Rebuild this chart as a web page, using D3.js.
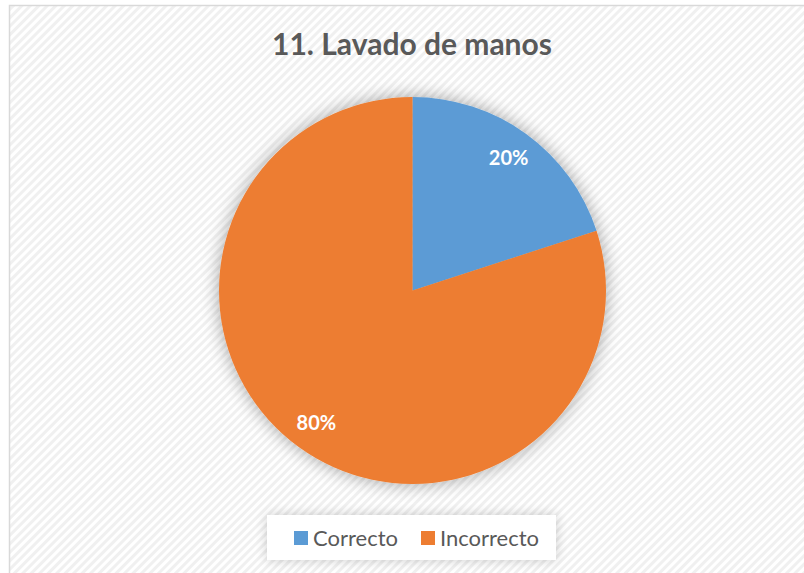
<!DOCTYPE html>
<html>
<head>
<meta charset="utf-8">
<script src="https://cdn.jsdelivr.net/npm/d3@7"></script>
<style>
  body { margin: 0; background: #fff; }
  svg { display: block; }
</style>
</head>
<body>
<svg width="804" height="573"></svg>
<script>
const categories = ['Correcto', 'Incorrecto'];
const values = [20, 80];
const labels = ['20%', '80%'];
const colors = ['#5B9BD5', '#ED7D31'];
const title = '11. Lavado de manos';

const svg = d3.select('svg');
const width = +svg.attr('width');
const height = +svg.attr('height');
const fontFamily = 'Lato, "Open Sans", sans-serif';

const defs = svg.append('defs');
// diagonal stripes of the chart area
const pattern = defs.append('pattern')
  .attr('id', 'stripes')
  .attr('patternUnits', 'userSpaceOnUse')
  .attr('width', 6)
  .attr('height', 6)
  .attr('patternTransform', 'rotate(45)');
pattern.append('rect').attr('width', 6).attr('height', 6).attr('fill', '#ffffff');
pattern.append('rect').attr('width', 3).attr('height', 6).attr('fill', '#f0f0f0');

const makeGlow = (id, blur, alpha) => {
  const f = defs.append('filter')
    .attr('id', id)
    .attr('x', '-25%').attr('y', '-25%')
    .attr('width', '150%').attr('height', '150%');
  f.append('feGaussianBlur').attr('in', 'SourceAlpha').attr('stdDeviation', blur);
  f.append('feComponentTransfer')
    .append('feFuncA').attr('type', 'linear').attr('slope', alpha);
  const m = f.append('feMerge');
  m.append('feMergeNode');
  m.append('feMergeNode').attr('in', 'SourceGraphic');
};
makeGlow('glow', 9, 0.35);
makeGlow('glow-legend', 6, 0.2);

// chart area + border
svg.append('rect')
  .attr('x', 9.5).attr('y', 5.5)
  .attr('width', width + 20).attr('height', height + 20)
  .attr('fill', 'url(#stripes)')
  .attr('stroke', '#d9d9d9')
  .attr('stroke-width', 1.5);

svg.append('text')
  .attr('x', 412)
  .attr('y', 55)
  .attr('text-anchor', 'middle')
  .attr('font-family', fontFamily)
  .attr('font-weight', 'bold')
  .attr('font-size', 30)
  .attr('fill', '#595959')
  .text(title);

// pie
const cx = 412.5, cy = 290.5, radius = 193.5;
const pie = d3.pie().sort(null).value(d => d.value);
const arc = d3.arc().innerRadius(0).outerRadius(radius);
const data = categories.map((c, i) => ({ name: c, value: values[i], label: labels[i], color: colors[i] }));
const arcs = pie(data);

const pieGroup = svg.append('g')
  .attr('transform', `translate(${cx}, ${cy})`);

pieGroup.append('g')
  .attr('filter', 'url(#glow)')
  .selectAll('path')
  .data(arcs)
  .enter()
  .append('path')
    .attr('d', arc)
    .attr('fill', d => d.data.color);

const labelArc = d3.arc().innerRadius(radius * 0.845).outerRadius(radius * 0.845);
pieGroup.selectAll('text.pct')
  .data(arcs)
  .enter()
  .append('text')
    .attr('class', 'pct')
    .attr('transform', d => `translate(${labelArc.centroid(d)})`)
    .attr('dy', '0.35em')
    .attr('text-anchor', 'middle')
    .attr('font-family', fontFamily)
    .attr('font-weight', 'bold')
    .attr('font-size', 20)
    .attr('fill', '#ffffff')
    .text(d => d.data.label);

// legend
const legend = svg.append('g');
legend.append('rect')
  .attr('x', 267).attr('y', 515)
  .attr('width', 289).attr('height', 45)
  .attr('fill', '#ffffff')
  .attr('filter', 'url(#glow-legend)');

const legendX = d3.scaleOrdinal().domain(categories).range([294, 421]);
const items = legend.selectAll('g.item')
  .data(data)
  .enter()
  .append('g')
    .attr('class', 'item')
    .attr('transform', d => `translate(${legendX(d.name)}, 531)`);
items.append('rect')
  .attr('width', 14).attr('height', 14)
  .attr('fill', d => d.color);
items.append('text')
  .attr('x', 19)
  .attr('y', 7)
  .attr('dy', '0.35em')
  .attr('font-family', fontFamily)
  .attr('font-size', 22)
  .attr('fill', '#595959')
  .text(d => d.name);
</script>
</body>
</html>
